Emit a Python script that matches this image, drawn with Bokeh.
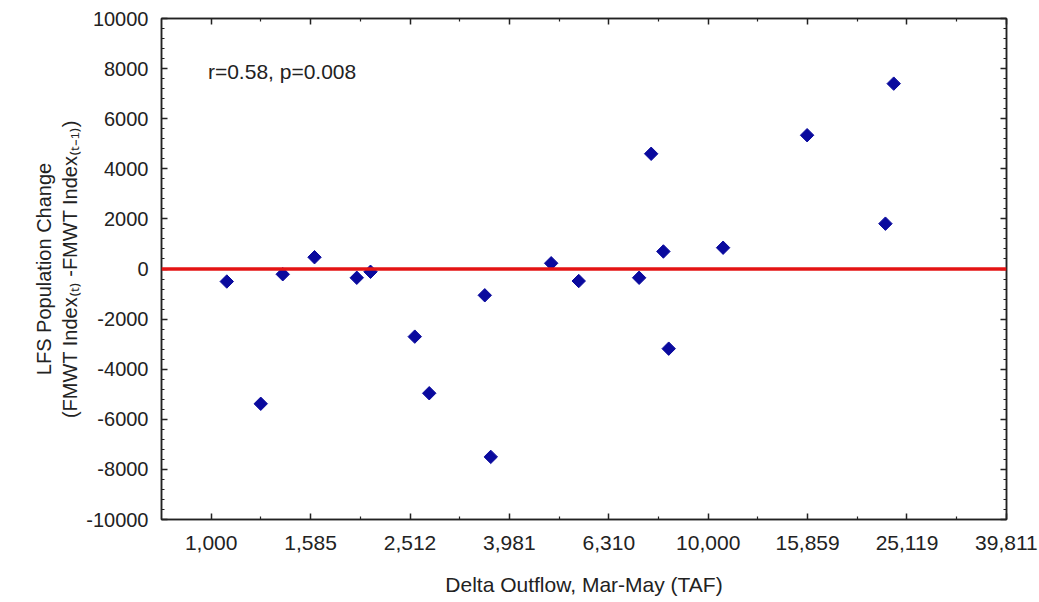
import math
from bokeh.plotting import figure
from bokeh.models import Range1d, FixedTicker, Span, LinearAxis, LogAxis, Label
from bokeh.embed import file_html
from bokeh.resources import INLINE

# ---- data ----
outflow_taf = [1075, 1258, 1393, 1614, 1963, 2092, 2568, 2746, 3552, 3652,
               4831, 5489, 7262, 7678, 8125, 8328, 10715, 15813, 22730, 23622]
pop_change = [-500, -5380, -210, 470, -350, -110, -2700, -4960, -1050, -7500,
              230, -480, -350, 4600, 700, -3180, 850, 5340, 1810, 7400]

x_tick_values = [1000, 1585, 2512, 3981, 6310, 10000, 15849, 25119, 39811]
x_tick_labels = ["1,000", "1,585", "2,512", "3,981", "6,310", "10,000", "15,859", "25,119", "39,811"]
y_tick_values = [-10000, -8000, -6000, -4000, -2000, 0, 2000, 4000, 6000, 8000, 10000]
y_minor_values = list(range(-10000, 10001, 400))

annotation = "r=0.58, p=0.008"
x_label = "Delta Outflow, Mar-May (TAF)"
y_label = "LFS Population Change\n(FMWT Index\u208d\u209c\u208e -FMWT Index\u208d\u209c\u208b\u2081\u208e)"

FONT = "Liberation Sans"
TXT = "#222222"

x_lo = 10 ** 2.9
x_hi = 10 ** 4.6 * 1.0005
x_minor = [math.sqrt(a * b) for a, b in zip(x_tick_values[:-1], x_tick_values[1:])]

p = figure(frame_width=845, frame_height=501,
           x_axis_type="log", x_range=Range1d(x_lo, x_hi), y_range=Range1d(-10000, 10000),
           output_backend="svg", toolbar_location=None,
           min_border_left=161, min_border_right=33, min_border_top=18, min_border_bottom=83,
           background_fill_color="white", border_fill_color="white")
p.grid.visible = False
p.outline_line_color = "#222222"
p.outline_line_width = 1.5

xt = FixedTicker(ticks=x_tick_values, minor_ticks=x_minor)
yt = FixedTicker(ticks=y_tick_values, minor_ticks=y_minor_values)

def style(ax, labels=True):
    ax.axis_line_color = "#222222"
    ax.axis_line_width = 1.5
    ax.major_tick_in = 6
    ax.major_tick_out = 0
    ax.minor_tick_in = 3
    ax.minor_tick_out = 0
    ax.major_tick_line_color = "#222222"
    ax.minor_tick_line_color = "#222222"
    ax.major_tick_line_width = 1.5
    ax.minor_tick_line_width = 1.2
    ax.major_label_text_font = FONT
    ax.major_label_text_color = TXT
    ax.axis_label_text_font = FONT
    ax.axis_label_text_font_style = "normal"
    ax.axis_label_text_color = TXT
    if not labels:
        ax.major_label_text_font_size = "0px"
        ax.major_label_text_alpha = 0

xa = p.xaxis[0]
xa.ticker = xt
xa.major_label_overrides = {v: l for v, l in zip(x_tick_values, x_tick_labels)}
style(xa)
xa.major_label_text_font_size = "21px"
xa.axis_label = x_label
xa.axis_label_text_font_size = "21px"
xa.major_label_standoff = 16
xa.axis_label_standoff = 20

ya = p.yaxis[0]
ya.ticker = yt
ya.major_label_overrides = {v: str(v) for v in y_tick_values}
style(ya)
ya.major_label_text_font_size = "20px"
ya.axis_label = y_label
ya.axis_label_text_font_size = "20px"
ya.major_label_standoff = 13
ya.axis_label_standoff = 2

top = LogAxis(ticker=xt)
style(top, labels=False)
p.add_layout(top, "above")
right = LinearAxis(ticker=yt)
style(right, labels=False)
p.add_layout(right, "right")

p.add_layout(Span(location=0, dimension="width", line_color="#e41414", line_width=3.5))

p.scatter(outflow_taf, pop_change, marker="square", size=9.5, angle=math.pi / 4,
          fill_color="#0a0a9e", line_color="#0a0a9e")

p.add_layout(Label(x=985, y=7900, text=annotation, text_font=FONT, text_font_size="21px",
                   text_color=TXT, text_baseline="middle", text_align="left"))

open("out.html", "w").write(file_html(p, INLINE))
